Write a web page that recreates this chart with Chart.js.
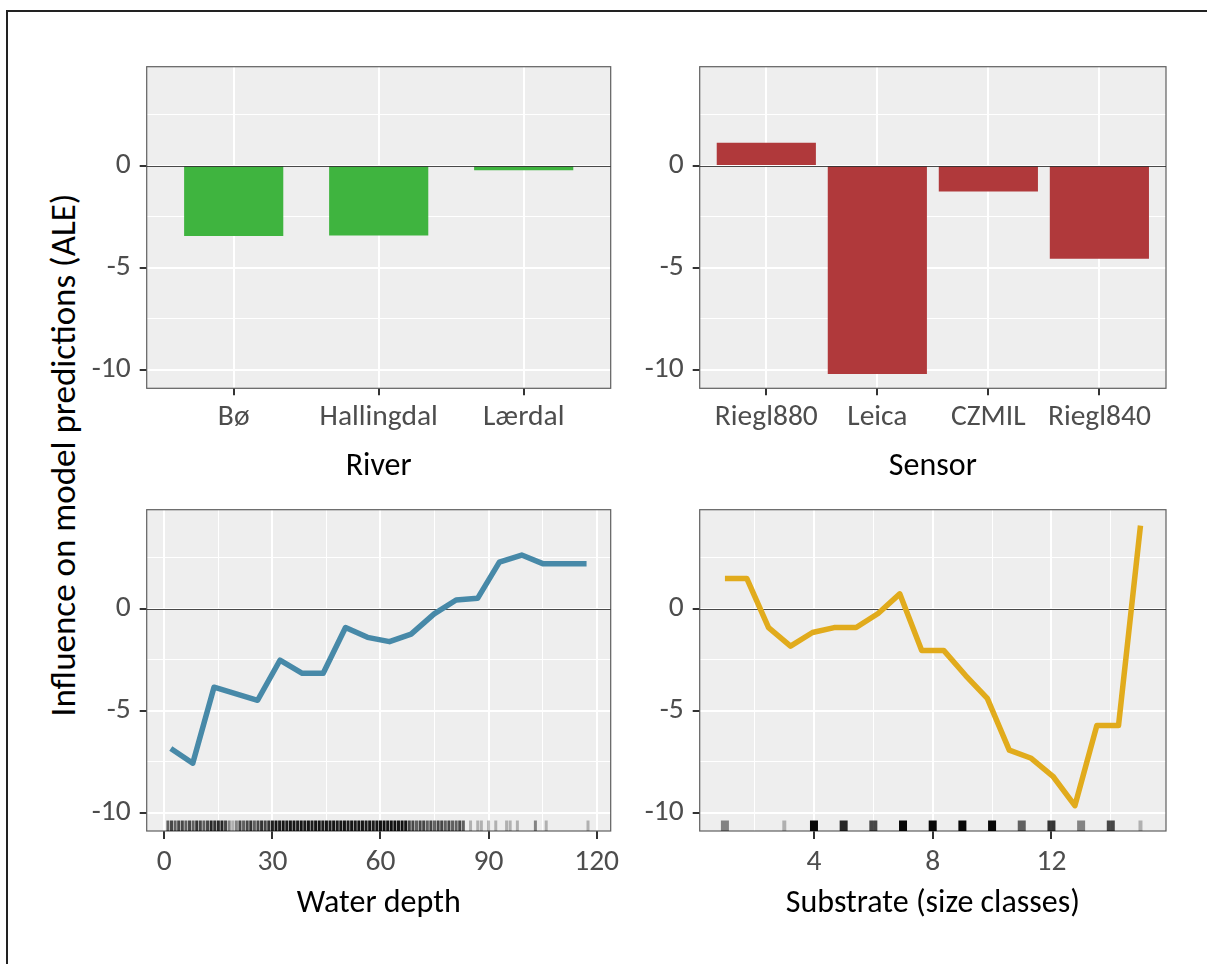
<!DOCTYPE html>
<html>
<head>
<meta charset="utf-8">
<script src="https://cdn.jsdelivr.net/npm/chart.js@4.4.1/dist/chart.umd.min.js"></script>
<style>
  html, body { margin: 0; padding: 0; background: #ffffff; }
  body { width: 1207px; height: 964px; position: relative; overflow: hidden;
         font-family: Carlito, Lato, "Open Sans", sans-serif; }
  .frame { position: absolute; left: 6px; top: 10px; right: -20px; bottom: -20px;
           border-top: 2px solid #222; border-left: 2px solid #222; }
  canvas { position: absolute; }
  .ytitle { position: absolute; left: 63px; top: 455px; white-space: nowrap;
            transform: translate(-50%, -50%) rotate(-90deg);
            font-size: 35px; line-height: 1.2; color: #000; }
</style>
</head>
<body>
<div class="frame"></div>
<div class="ytitle">Influence on model predictions (ALE)</div>
<script>
// ---- ALE values per predictor ----
const riverNames = ['Bø', 'Hallingdal', 'Lærdal'];
const riverAle = [-3.42, -3.40, -0.21];

const sensorNames = ['Riegl880', 'Leica', 'CZMIL', 'Riegl840'];
const sensorAle = [1.10, -10.17, -1.25, -4.54];

const depthX = [1.8, 7.9, 13.8, 25.9, 32.1, 38.3, 44.1, 50.3, 56.4, 62.5, 68.5, 74.9, 81.0, 87.0, 93.0, 99.2, 105.2, 117.2];
const depthAle = [-6.85, -7.57, -3.85, -4.49, -2.53, -3.17, -3.17, -0.93, -1.41, -1.62, -1.25, -0.26, 0.42, 0.51, 2.27, 2.62, 2.19, 2.19];

const substrateX = [1, 1.74, 2.47, 3.21, 3.95, 4.68, 5.42, 6.16, 6.89, 7.63, 8.37, 9.11, 9.84, 10.58, 11.32, 12.05, 12.79, 13.53, 14.26, 15];
const substrateAle = [1.47, 1.47, -0.93, -1.84, -1.17, -0.93, -0.93, -0.24, 0.72, -2.05, -2.05, -3.28, -4.40, -6.93, -7.33, -8.21, -9.65, -5.73, -5.73, 4.06];

// ---- observation rugs (position, number of observations) ----
const depthRugAt = [
  1, 2, 3, 4, 5, 6, 7, 8, 9, 10, 11, 12,
  13, 14, 15, 16, 17,
  18, 19, 20,
  21, 22, 23, 24, 25, 26, 27, 28, 29,
  30, 31, 32, 33, 34, 35, 36, 37, 38, 39, 40, 41, 42, 43, 44, 45, 46,
  47, 48, 49, 50, 51, 52, 53, 54, 55, 56, 57, 58, 59,
  60, 61, 62, 63, 64, 65, 66, 67,
  68, 69, 70, 71, 72, 73, 74, 75, 76, 77, 78, 79, 80, 81, 82, 83,
  85, 87, 88, 90, 92, 95, 96, 98, 103, 106, 117.6
];
const depthRugN = [
  3, 4, 3, 4, 4, 3, 4, 3, 5, 4, 3, 4,
  6, 5, 6, 6, 4,
  2, 1, 2,
  4, 3, 4, 5, 3, 4, 5, 4, 5,
  7, 8, 7, 8, 7, 8, 8, 7, 8, 7, 8, 7, 8, 8, 7, 8, 7,
  8, 7, 8, 8, 7, 8, 7, 8, 8, 7, 8, 7, 8,
  9, 9, 8, 9, 9, 8, 9, 8,
  4, 4, 3, 4, 4, 3, 4, 3, 4, 4, 3, 4, 3, 3, 4, 3,
  1, 1, 1, 1, 1, 1, 1, 1, 2, 1, 1
];
const substrateRugAt = [1, 3, 4, 5, 6, 7, 8, 9, 10, 11, 12, 13, 14, 15];
const substrateRugN = [2, 1, 12, 6, 4, 12, 12, 12, 12, 3, 5, 2, 4, 1];

// ---- axis ticks ----
const yTicks = [-10, -7.5, -5, -2.5, 0, 2.5];
const yLabelled = [-10, -5, 0];
const depthTicks = [0, 15, 30, 45, 60, 75, 90, 105, 120];
const depthLabelled = [0, 30, 60, 90, 120];
const substrateTicks = [2, 4, 6, 8, 10, 12, 14];
const substrateLabelled = [4, 8, 12];

// ---- rendering ----
const FONT = 'Carlito, Lato, "Open Sans", sans-serif';
const TICK_SIZE = 29.5;
const TITLE_SIZE = 32;
Chart.defaults.font.family = FONT;
Chart.defaults.font.size = TICK_SIZE;
Chart.defaults.color = '#4d4d4d';

const Y_MIN = -10.89, Y_MAX = 4.84;
const RUG_Y = -10.65;

// rug ticks are semi-transparent; overlapping observations darken them
function rugColor(n) {
  const a = 1 - Math.pow(0.74, n);
  return 'rgba(0,0,0,' + a.toFixed(3) + ')';
}

function drawZero(chart) {
  const { ctx, chartArea: a, scales } = chart;
  const y = Math.round(scales.y.getPixelForValue(0)) + 0.5;
  ctx.save();
  ctx.strokeStyle = 'rgba(40,40,40,0.85)';
  ctx.lineWidth = 1;
  ctx.beginPath(); ctx.moveTo(a.left, y); ctx.lineTo(a.right, y); ctx.stroke();
  ctx.restore();
}

const panelPlugin = {
  id: 'panel',
  beforeDraw(chart) {
    const { ctx, chartArea: a } = chart;
    ctx.save();
    ctx.fillStyle = '#eeeeee';
    ctx.fillRect(a.left, a.top, a.width, a.height);
    ctx.restore();
  },
  beforeDatasetsDraw(chart, args, opts) {
    const { ctx, chartArea: a } = chart;
    ctx.save();
    ctx.strokeStyle = '#5f5f5f';
    ctx.lineWidth = 1.2;
    ctx.strokeRect(a.left, a.top, a.width, a.height);
    ctx.restore();
    if (!opts.zeroOnTop) drawZero(chart);
  },
  afterDatasetsDraw(chart, args, opts) {
    if (opts.zeroOnTop) drawZero(chart);
  }
};

function yScale(yw) {
  return {
    type: 'linear', min: Y_MIN, max: Y_MAX,
    afterBuildTicks: s => { s.ticks = yTicks.map(v => ({ value: v })); },
    afterFit: s => { s.width = yw; },
    ticks: { autoSkip: false, padding: 9, color: '#4d4d4d',
             callback: v => yLabelled.includes(v) ? String(v) : '' },
    grid: {
      color: '#ffffff',
      lineWidth: c => (c.tick && yLabelled.includes(c.tick.value)) ? 2 : 1,
      drawTicks: true, tickLength: 7, tickWidth: 2,
      tickColor: c => (c.tick && yLabelled.includes(c.tick.value)) ? '#333333' : 'rgba(0,0,0,0)'
    },
    border: { display: false }
  };
}

function xScale(cfg) {
  return {
    type: 'linear', min: cfg.min, max: cfg.max, offset: false,
    afterBuildTicks: s => { s.ticks = cfg.ticks.map(v => ({ value: v })); },
    afterFit: s => { s.height = cfg.xh; },
    ticks: { autoSkip: false, maxRotation: 0, minRotation: 0, padding: cfg.pad, color: '#4d4d4d',
             callback: cfg.label },
    grid: {
      offset: false,
      color: '#ffffff',
      lineWidth: c => (c.tick && cfg.major(c.tick.value)) ? 2 : 1,
      drawTicks: true, tickLength: cfg.tl, tickWidth: 2,
      tickColor: c => (c.tick && cfg.major(c.tick.value)) ? '#333333' : 'rgba(0,0,0,0)'
    },
    border: { display: false },
    title: { display: true, text: cfg.title, color: '#000000',
             font: { size: TITLE_SIZE }, padding: { top: 0, bottom: cfg.titlePad } }
  };
}

// panel box: chart area in page pixels, canvas box around it
function makeCanvas(box) {
  const c = document.createElement('canvas');
  c.width = box.cw; c.height = box.ch;
  c.style.left = box.cx + 'px'; c.style.top = box.cy + 'px';
  c.style.width = box.cw + 'px'; c.style.height = box.ch + 'px';
  document.body.appendChild(c);
  return c;
}

function build(box, type, datasets, xcfg, zeroOnTop) {
  const yw = box.left - box.cx;
  const pt = box.top - box.cy;
  const pr = box.cx + box.cw - box.right;
  xcfg.xh = box.cy + box.ch - box.bottom;
  return new Chart(makeCanvas(box), {
    type: type,
    data: { datasets: datasets },
    options: {
      responsive: false, devicePixelRatio: 1, animation: false, events: [],
      layout: { padding: { left: 0, top: pt, right: pr, bottom: 0 } },
      plugins: { legend: { display: false }, tooltip: { enabled: false },
                 panel: { zeroOnTop: zeroOnTop } },
      scales: { x: xScale(xcfg), y: yScale(yw) }
    },
    plugins: [panelPlugin]
  });
}

const boxTL = { left: 146.7, right: 610.7, top: 60, bottom: 388.3, cx: 20, cy: 40, cw: 630, ch: 460 };
const boxTR = { left: 699.7, right: 1166, top: 60, bottom: 388.3, cx: 580, cy: 40, cw: 620, ch: 460 };
const boxBL = { left: 146.7, right: 610.7, top: 503.3, bottom: 831, cx: 20, cy: 483, cw: 630, ch: 467 };
const boxBR = { left: 699.7, right: 1166, top: 503.3, bottom: 831, cx: 580, cy: 483, cw: 620, ch: 467 };

// River
build(boxTL, 'bar', [{
  data: riverAle.map((v, i) => ({ x: i + 1, y: v })),
  backgroundColor: '#3fb43f', borderWidth: 0, barThickness: 98.5
}], {
  min: 0.4, max: 3.6, ticks: riverNames.map((_, i) => i + 1),
  label: v => riverNames[v - 1] || '', major: () => true,
  title: 'River', pad: 4.6, tl: 7, titlePad: 14.2
}, true);

// Sensor
build(boxTR, 'bar', [{
  data: sensorAle.map((v, i) => ({ x: i + 1, y: v })),
  backgroundColor: '#b0393b', borderWidth: 0, barThickness: 98.5
}], {
  min: 0.4, max: 4.6, ticks: sensorNames.map((_, i) => i + 1),
  label: v => sensorNames[v - 1] || '', major: () => true,
  title: 'Sensor', pad: 4.6, tl: 7, titlePad: 14.2
}, true);

function rugSet(at, n, y, width) {
  return {
    type: 'scatter',
    data: at.map(v => ({ x: v, y: y })),
    showLine: false,
    pointStyle: 'line', pointRotation: 90, pointRadius: 5.5,
    pointBorderWidth: width,
    borderWidth: width,
    pointBorderColor: c => rugColor(n[c.dataIndex]),
    borderColor: c => rugColor(n[c.dataIndex]),
    pointBackgroundColor: 'rgba(0,0,0,0)'
  };
}

// Water depth
build(boxBL, 'scatter', [{
  type: 'line',
  data: depthX.map((v, i) => ({ x: v, y: depthAle[i] })),
  borderColor: '#4789a8', borderWidth: 5.5, pointRadius: 0, tension: 0, fill: false,
  borderCapStyle: 'butt', borderJoinStyle: 'round'
}, rugSet(depthRugAt, depthRugN, RUG_Y, 3)], {
  min: -4.885, max: 123.9, ticks: depthTicks,
  label: v => depthLabelled.includes(v) ? String(v) : '',
  major: v => depthLabelled.includes(v),
  title: 'Water depth', pad: 5.9, tl: 8, titlePad: 26.5
}, false);

// Substrate
const subRug = rugSet(substrateRugAt, substrateRugN, RUG_Y, 8);
subRug.pointBorderWidth = c => substrateRugN[c.dataIndex] <= 1 ? 4 : 8;
build(boxBR, 'scatter', [{
  type: 'line',
  data: substrateX.map((v, i) => ({ x: v, y: substrateAle[i] })),
  borderColor: '#e1ab1c', borderWidth: 5.5, pointRadius: 0, tension: 0, fill: false,
  borderCapStyle: 'butt', borderJoinStyle: 'round'
}, subRug], {
  min: 0.15, max: 15.86, ticks: substrateTicks,
  label: v => substrateLabelled.includes(v) ? String(v) : '',
  major: v => substrateLabelled.includes(v),
  title: 'Substrate (size classes)', pad: 5.9, tl: 8, titlePad: 26.5
}, false);
</script>
</body>
</html>
